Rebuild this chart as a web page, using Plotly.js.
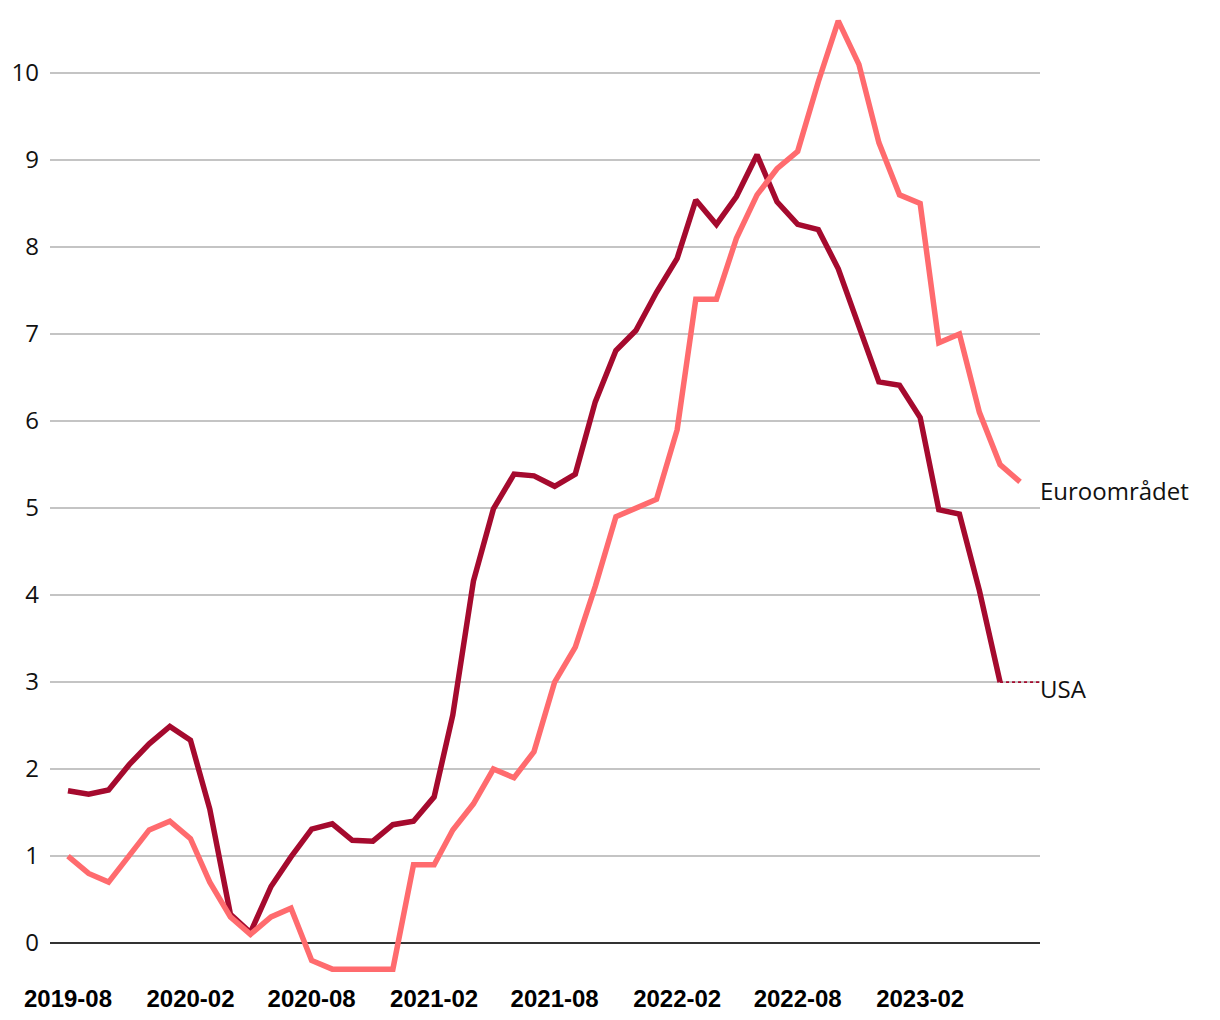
<!DOCTYPE html>
<html>
<head>
<meta charset="utf-8">
<script src="https://cdn.plot.ly/plotly-3.0.1.min.js"></script>
<style>html,body{margin:0;padding:0;background:#fff;}#chart{width:1220px;height:1020px;}</style>
</head>
<body>
<div id="chart"></div>
<script>
const months = ["2019-08","2019-09","2019-10","2019-11","2019-12","2020-01","2020-02","2020-03","2020-04","2020-05","2020-06","2020-07","2020-08","2020-09","2020-10","2020-11","2020-12","2021-01","2021-02","2021-03","2021-04","2021-05","2021-06","2021-07","2021-08","2021-09","2021-10","2021-11","2021-12","2022-01","2022-02","2022-03","2022-04","2022-05","2022-06","2022-07","2022-08","2022-09","2022-10","2022-11","2022-12","2023-01","2023-02","2023-03","2023-04","2023-05","2023-06","2023-07"];
const euro = [1.0,0.8,0.7,1.0,1.3,1.4,1.2,0.7,0.3,0.1,0.3,0.4,-0.2,-0.3,-0.3,-0.3,-0.3,0.9,0.9,1.3,1.6,2.0,1.9,2.2,3.0,3.4,4.1,4.9,5.0,5.1,5.9,7.4,7.4,8.1,8.6,8.9,9.1,9.9,10.6,10.1,9.2,8.6,8.5,6.9,7.0,6.1,5.5,5.3];
const usa = [1.75,1.71,1.76,2.05,2.29,2.49,2.33,1.54,0.33,0.12,0.65,0.99,1.31,1.37,1.18,1.17,1.36,1.40,1.68,2.62,4.16,4.99,5.39,5.37,5.25,5.39,6.22,6.81,7.04,7.48,7.87,8.54,8.26,8.58,9.06,8.52,8.26,8.20,7.75,7.11,6.45,6.41,6.04,4.98,4.93,4.05,3.0];
const tickMonths = ["2019-08","2020-02","2020-08","2021-02","2021-08","2022-02","2022-08","2023-02"];
const yTicks = [0,1,2,3,4,5,6,7,8,9,10];
const seriesNames = ["USA","Euroområdet"];

const usaLast = usa.length - 1;
const connectorX = [months[usaLast] + "-01", "2023-07-31"];
const connectorY = [usa[usaLast], usa[usaLast]];

const traces = [
  {x: months.slice(0, usa.length).map(m => m + "-01"), y: usa, type: "scatter", mode: "lines", name: seriesNames[0],
   line: {color: "#a50a2e", width: 5.5}, hoverinfo: "x+y"},
  {x: connectorX, y: connectorY, type: "scatter", mode: "lines", showlegend: false,
   line: {color: "#a50a2e", width: 1.8, dash: "dot"}, hoverinfo: "skip"},
  {x: months.map(m => m + "-01"), y: euro, type: "scatter", mode: "lines", name: seriesNames[1],
   line: {color: "#ff6b6e", width: 5.5}, hoverinfo: "x+y"}
];

const layout = {
  width: 1220, height: 1020,
  margin: {l: 50, r: 180, t: 3, b: 42},
  paper_bgcolor: "#fff", plot_bgcolor: "#fff",
  showlegend: false,
  xaxis: {
    type: "date",
    range: ["2019-07-05", "2023-07-31"],
    tickvals: tickMonths.map(m => m + "-01"),
    ticktext: tickMonths,
    showgrid: false, zeroline: false, showline: false,
    ticks: "",
    tickfont: {family: "Liberation Sans, Arial, sans-serif", size: 24, color: "#000", weight: "bold"},
    ticklabelstandoff: 4
  },
  yaxis: {
    range: [-0.402, 10.805],
    tickvals: yTicks,
    ticktext: yTicks.map(String),
    showgrid: true, gridcolor: "#c4c4c4", gridwidth: 1.2,
    zeroline: true, zerolinecolor: "#333", zerolinewidth: 1.5,
    showline: false, ticks: "",
    tickfont: {family: "Open Sans, Noto Sans, sans-serif", size: 24, color: "#111"},
    ticklabelstandoff: 10
  },
  annotations: [
    {xref: "paper", x: 1, xanchor: "left", yref: "y", y: euro[euro.length - 1] - 0.1, yanchor: "middle",
     text: seriesNames[1], showarrow: false, xshift: -2,
     font: {family: "Open Sans, Noto Sans, sans-serif", size: 24, color: "#111"}},
    {xref: "paper", x: 1, xanchor: "left", yref: "y", y: usa[usaLast] - 0.08, yanchor: "middle",
     text: seriesNames[0], showarrow: false, xshift: -2,
     font: {family: "Open Sans, Noto Sans, sans-serif", size: 24, color: "#111"}}
  ]
};

Plotly.newPlot("chart", traces, layout, {displayModeBar: false, staticPlot: true});
</script>
</body>
</html>
